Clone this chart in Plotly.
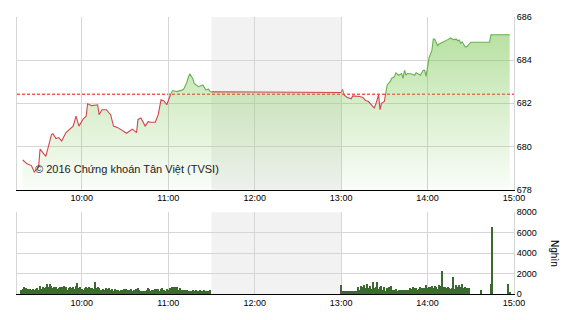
import pandas as pd
import plotly.graph_objects as go

DAY = "2016-06-01 "

# ---- price (index) data ----
morning_times = ["09:19","09:22","09:25","09:27","09:30","09:31","09:35","09:39","09:40","09:42","09:44","09:46",
                 "09:49","09:54","09:56","09:58","10:01","10:03","10:04","10:07","10:11","10:12","10:14","10:17",
                 "10:20","10:22","10:25","10:28","10:31","10:33","10:35","10:38","10:39","10:41","10:43","10:44",
                 "10:46","10:48","10:51","10:53","10:55","10:57","10:59","11:00","11:01","11:03","11:06","11:08",
                 "11:10","11:11","11:13","11:14","11:15","11:17","11:18","11:21","11:23","11:24","11:26","11:28",
                 "11:29","11:30"]
morning_values = [679.37,679.19,679.11,678.81,679.04,679.87,679.54,680.56,680.59,680.36,680.41,680.25,
                  680.64,680.94,681.40,680.94,681.28,681.40,681.98,681.89,681.93,681.47,681.70,681.70,
                  681.47,680.94,680.87,680.72,680.61,680.70,680.80,680.64,681.25,681.32,681.10,680.94,
                  681.15,681.12,681.12,681.47,682.16,682.11,681.93,682.13,682.34,682.59,682.54,682.58,
                  682.62,682.69,682.99,683.23,683.35,683.15,682.92,682.77,682.80,682.85,682.62,682.65,
                  682.54,682.53]
afternoon_times = ["13:00","13:01","13:02","13:04","13:07","13:08","13:11","13:13","13:15","13:17","13:19","13:20",
                   "13:22","13:23","13:24","13:26","13:27","13:28","13:30","13:31","13:32","13:34","13:35","13:37",
                   "13:38","13:40","13:42","13:43","13:44","13:45","13:46","13:49","13:51","13:52","13:55","13:57",
                   "13:58","13:59","14:00","14:01","14:03","14:04","14:05","14:06","14:07","14:08","14:10","14:12",
                   "14:14","14:16","14:18","14:20","14:21","14:22","14:23","14:24","14:26","14:27","14:29","14:30",
                   "14:43","14:44","14:57"]
afternoon_values = [682.50,682.65,682.39,682.28,682.21,682.34,682.34,682.31,682.27,682.13,682.08,682.00,
                    681.85,681.78,681.95,682.39,681.70,682.00,682.08,682.47,682.85,683.00,683.15,683.23,
                    683.41,683.30,683.38,683.15,683.53,683.30,683.38,683.36,683.30,683.41,683.30,683.53,
                    683.53,683.25,683.76,684.10,684.45,684.98,684.98,684.83,684.67,684.75,684.83,684.87,
                    684.95,685.03,684.95,684.97,684.90,684.93,684.78,684.85,684.63,684.60,684.75,684.83,
                    684.83,685.18,685.18]
reference_value = 682.42

# ---- volume data (thousand shares) ----
vol_morning_start = "09:18"
vol_morning = [380,450,700,600,450,450,450,420,500,380,
               450,550,380,750,450,700,550,640,930,640,
               960,770,550,640,700,450,550,700,640,450,
               770,700,380,550,700,550,640,450,770,1030,
               550,700,450,380,550,640,550,640,550,550,
               450,1190,550,640,550,380,380,450,380,550,
               450,550,380,450,320,450,380,380,320,380,
               380,450,380,450,380,380,450,320,380,320,
               450,550,380,230,230,300,230,380,550,450,
               320,380,380,450,450,450,320,450,550,380,
               320,450,380,550,380,640,700,640,700,380,
               550,380,380,320,380,380,320,230,320,380,
               300,380,230,320,380,230,320,380,230,320,300,380]
vol_afternoon_start = "13:00"
vol_afternoon = [870,230,260,290,230,290,260,290,230,320,
                 260,290,710,390,770,710,870,550,970,550,
                 770,450,1200,600,640,1200,450,710,770,380,
                 710,290,550,710,320,770,380,380,450,320,
                 390,390,350,390,390,420,390,390,550,450,
                 640,550,550,390,450,640,550,550,600,870,
                 550,640,710,770,550,770,640,500,870,770,
                 2260,710,640,550,710,550,450,600,1680,450,
                 870,710,870,640,970,550,710,550,550,550]
vol_late_times = ["14:37","14:44","14:45","14:56","14:57"]
vol_late = [380,1000,6500,1000,150]

x_start, x_end = "09:15", "15:00"
break_start, break_end = "11:30", "13:00"
hour_ticks_start = "10:00"


def ts(hm):
    return pd.Timestamp(DAY + hm)


def colour_runs(times, vals, ref, above):
    pts = []
    for i in range(len(vals) - 1):
        pts.append((times[i], vals[i]))
        a, b = vals[i] - ref, vals[i + 1] - ref
        if a * b < 0:
            f = (ref - vals[i]) / (vals[i + 1] - vals[i])
            pts.append((times[i] + (times[i + 1] - times[i]) * f, ref))
    pts.append((times[-1], vals[-1]))
    xs, ys, prev = [], [], False
    for j in range(len(pts) - 1):
        mid = (pts[j][1] + pts[j + 1][1]) / 2
        inside = mid >= ref if above else mid < ref
        if inside:
            if not prev:
                if xs:
                    xs.append(None); ys.append(None)
                xs.append(pts[j][0]); ys.append(pts[j][1])
            xs.append(pts[j + 1][0]); ys.append(pts[j + 1][1])
        prev = inside
    return xs, ys


mt = [ts(t) for t in morning_times]
at = [ts(t) for t in afternoon_times]
all_t = mt + at
all_v = morning_values + afternoon_values

RED = "#d4444f"
GREEN = "#6aae52"
BAR = "#3b6a2e"
GRID = "#d6d6d6"
FONT = "Liberation Sans, Arial, sans-serif"

fig = go.Figure()

# gradient fill under the index line
fig.add_trace(go.Scatter(
    x=all_t, y=all_v, mode="lines", line=dict(width=0), fill="tozeroy",
    fillgradient=dict(type="vertical", start=678, stop=686,
                      colorscale=[[0, "rgba(125,200,85,0.03)"], [0.5, "rgba(125,200,85,0.3)"],
                                  [1, "rgba(125,200,85,0.6)"]]),
    hoverinfo="skip", showlegend=False, xaxis="x", yaxis="y"))

for times, vals in [(mt, morning_values), (at, afternoon_values)]:
    for above, col in [(True, GREEN), (False, RED)]:
        xs, ys = colour_runs(times, vals, reference_value, above)
        if xs:
            fig.add_trace(go.Scatter(x=xs, y=ys, mode="lines", line=dict(color=col, width=1.1),
                                     showlegend=False, xaxis="x", yaxis="y"))

# lunch-break connector
fig.add_trace(go.Scatter(x=[mt[-1], at[0]], y=[morning_values[-1], afternoon_values[0]], mode="lines",
                         line=dict(color=RED, width=1.1), showlegend=False, xaxis="x", yaxis="y"))

# volume bars
vol_t = ([ts(vol_morning_start) + pd.Timedelta(minutes=i) for i in range(len(vol_morning))] +
         [ts(vol_afternoon_start) + pd.Timedelta(minutes=i) for i in range(len(vol_afternoon))] +
         [ts(t) for t in vol_late_times])
vol_v = vol_morning + vol_afternoon + vol_late
fig.add_trace(go.Bar(x=vol_t, y=vol_v, marker=dict(color=BAR, line=dict(width=0)), width=50000,
                     showlegend=False, xaxis="x2", yaxis="y2"))

xcommon = dict(type="date", range=[ts(x_start), ts(x_end)], tickformat="%H:%M",
               tick0=ts(hour_ticks_start), dtick=3600000, showgrid=True, gridcolor=GRID, gridwidth=1,
               showline=True, linecolor="#000000", linewidth=1, ticks="",
               tickfont=dict(family=FONT, size=9, color="#000"), zeroline=False)
ycommon = dict(side="right", showgrid=True, gridcolor=GRID, gridwidth=1, showline=True,
               linecolor=GRID, mirror=True, ticks="", zeroline=False,
               tickfont=dict(family=FONT, size=9, color="#000"))

fig.update_layout(
    width=570, height=320, margin=dict(l=17, r=56, t=16, b=23),
    paper_bgcolor="white", plot_bgcolor="white", showlegend=False, bargap=0,
    xaxis=dict(domain=[0, 1], anchor="y", **xcommon),
    yaxis=dict(domain=[0.3772, 1], anchor="x", range=[678, 686], dtick=2, **ycommon),
    xaxis2=dict(domain=[0, 1], anchor="y2", **xcommon),
    yaxis2=dict(domain=[0, 0.2954], anchor="x2", range=[0, 8000], dtick=2000, **ycommon),
    shapes=[
        dict(type="rect", xref="x", yref="y domain", x0=ts(break_start), x1=ts(break_end), y0=0, y1=1,
             fillcolor="#f2f2f2", line=dict(width=0), layer="below"),
        dict(type="rect", xref="x2", yref="y2 domain", x0=ts(break_start), x1=ts(break_end), y0=0, y1=1,
             fillcolor="#f2f2f2", line=dict(width=0), layer="below"),
        dict(type="line", xref="x domain", yref="y", x0=0, x1=1, y0=reference_value, y1=reference_value,
             line=dict(color="#ff0000", width=1, dash="3px,2px"), layer="below"),
    ],
    annotations=[
        dict(text="© 2016 Chứng khoán Tân Việt (TVSI)", xref="paper", yref="y", x=0.032, y=678.96,
             xanchor="left", yanchor="middle", showarrow=False,
             font=dict(family=FONT, size=11, color="#222")),
        dict(text="Nghìn", xref="paper", yref="y2", x=1.0, xshift=41, y=4000, textangle=90,
             xanchor="center", yanchor="middle", showarrow=False,
             font=dict(family=FONT, size=10, color="#000")),
    ],
)

fig.write_html("out.html")
